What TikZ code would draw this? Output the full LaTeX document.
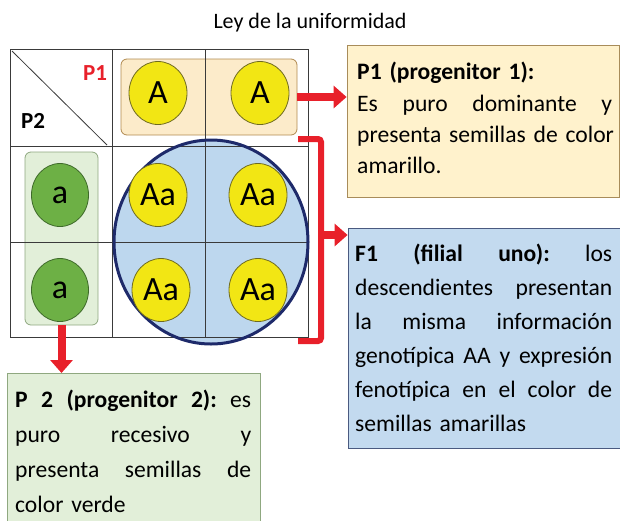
\documentclass[tikz,border=0pt]{standalone}
\usepackage{fontspec}
\setmainfont{Carlito}
\usetikzlibrary{arrows.meta,shapes.geometric}
\definecolor{peachfill}{HTML}{FCEBCA}
\definecolor{peachline}{HTML}{B08A50}
\definecolor{yfill}{HTML}{F2E614}
\definecolor{yline}{HTML}{6E6A20}
\definecolor{gfill}{HTML}{6DB045}
\definecolor{gline}{HTML}{3E6A2A}
\definecolor{gboxfill}{HTML}{E2EFD9}
\definecolor{gboxline}{HTML}{8FA880}
\definecolor{bfill}{HTML}{BDD7EE}
\definecolor{bline}{HTML}{1E2A6A}
\definecolor{f1fill}{HTML}{C3DAEF}
\definecolor{f1line}{HTML}{4A5A80}
\definecolor{p1fill}{HTML}{FFF2CC}
\definecolor{p1line}{HTML}{A88C5A}
\definecolor{myred}{HTML}{E8202A}
\definecolor{gridc}{HTML}{3A3A3A}
\newcommand{\jl}[2]{\hbox to #1{#2}\par}
\newcommand{\wsp}{\hskip 0pt plus 1fil\relax}
\begin{document}
\begin{tikzpicture}[x=1pt,y=-1pt,
  allele/.style={ellipse, draw=yline, fill=yfill, line width=0.8pt, minimum width=58pt, minimum height=63pt, inner sep=0pt, font=\fontsize{34}{34}\selectfont},
  gallele/.style={ellipse, draw=gline, fill=gfill, line width=0.8pt, minimum width=57pt, minimum height=63pt, inner sep=0pt, font=\fontsize{34}{34}\selectfont},
  gridline/.style={draw=gridc, line width=1pt},
  redarrow/.style={draw=myred, line width=8pt, -{Triangle[length=13pt,width=22pt]}},
  bodytext/.style={anchor=north west, inner sep=0pt, align=left},
]
\useasboundingbox (0,0) rectangle (620,520);
\clip (0,0) rectangle (620,520);

% title
\node (title) at (310,23) {\fontsize{22}{24}\selectfont Ley de la uniformidad};

% backgrounds in the grid
\node[draw=peachline, fill=peachfill, rounded corners=6pt, line width=0.8pt, minimum width=176pt, minimum height=76pt, inner sep=0pt] (p1box) at (209,97) {};
\node[draw=gboxline, fill=gboxfill, rounded corners=6pt, line width=0.8pt, minimum width=73pt, minimum height=173pt, inner sep=0pt] (p2box) at (61.5,238.5) {};
\fill[bfill] (211,242) ellipse [x radius=97pt, y radius=102pt];

% grid
\draw[gridline] (10,49) rectangle (308,337);
\draw[gridline] (112,49) -- (112,337);
\draw[gridline] (205,49) -- (205,337);
\draw[gridline] (10,146) -- (308,146);
\draw[gridline] (10,242) -- (308,242);
\draw[draw=gridc, line width=0.8pt] (12,51) -- (107,145);

\draw[draw=bline, line width=3pt] (211,242) ellipse [x radius=97pt, y radius=102pt];

\node[text=myred, font=\fontsize{23}{23}\selectfont\bfseries] (lp1) at (95,73) {P1};
\node[font=\fontsize{23}{23}\selectfont\bfseries] (lp2) at (33,121) {P2};

% alleles
\node[allele] (a1) at (158,93) {A};
\node[allele] (a2) at (260,93) {A};
\node[gallele] (g1) at (60,195) {a};
\node[gallele] (g2) at (60,290) {a};
\node[allele] (c11) at (158,195) {Aa};
\node[allele] (c12) at (258,195) {Aa};
\node[allele] (c21) at (161,290) {Aa};
\node[allele] (c22) at (258,290) {Aa};

% text boxes
\node[draw=p1line, fill=p1fill, line width=0.8pt, minimum width=272pt, minimum height=152pt, inner sep=0pt] (p1text) at (483,121) {};
\node[bodytext, text width=255pt, font=\fontsize{23.6}{31.3}\selectfont] (p1body) at (357,62) {%
\textbf{P1 (progenitor 1):}\par
\jl{255pt}{Es\wsp puro\wsp dominante\wsp y}
\jl{255pt}{presenta semillas de color}
amarillo.};

\node[draw=f1line, fill=f1fill, line width=0.8pt, minimum width=272pt, minimum height=220pt, inner sep=0pt] (f1text) at (484,338) {};
\node[bodytext, text width=257pt, font=\fontsize{23.6}{34}\selectfont] (f1body) at (355,244) {%
\jl{257pt}{\textbf{F1}\wsp\textbf{(filial}\wsp\textbf{uno):}\wsp los}
\jl{257pt}{descendientes\wsp presentan}
\jl{257pt}{la\wsp misma\wsp información}
\jl{257pt}{genotípica\wsp AA\wsp y\wsp expresión}
\jl{257pt}{fenotípica\wsp en\wsp el\wsp color\wsp de}
semillas amarillas};

\node[draw=gboxline, fill=gboxfill, line width=0.8pt, minimum width=253pt, minimum height=150pt, inner sep=0pt, anchor=north west] (p2text) at (7,373) {};
\node[bodytext, text width=236pt, font=\fontsize{23.6}{35}\selectfont] (p2body) at (15,390) {%
\jl{236pt}{\textbf{P}\wsp\textbf{2}\wsp\textbf{(progenitor}\wsp\textbf{2):}\wsp es}
\jl{236pt}{puro\wsp recesivo\wsp y}
\jl{236pt}{presenta\wsp semillas\wsp de}
color verde};

% connectors
\draw[redarrow] (p1box.east) -- (p1box.east -| p1text.west);
\coordinate (brtop) at (298,139);
\coordinate (brbot) at (298,341);
\coordinate (brmid) at (321,235);
\draw[draw=myred, line width=6pt, rounded corners=3pt] (brtop) -- (brtop -| brmid) -- (brbot -| brmid) -- (brbot);
\draw[redarrow] (brmid) -- (brmid -| f1text.west);
\draw[redarrow] (p2box.south) -- (p2box.south |- p2text.north);
\end{tikzpicture}
\end{document}
